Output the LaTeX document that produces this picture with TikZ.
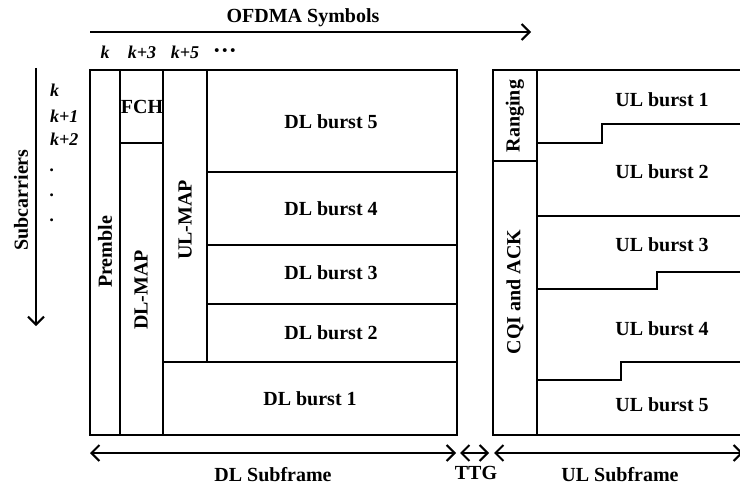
\documentclass[tikz,border=0pt]{standalone}
\usepackage{fontspec}
\setmainfont{Liberation Serif}
\usetikzlibrary{arrows.meta}
\begin{document}
\begin{tikzpicture}[x=1pt,y=-1pt,
  frame/.style={line width=2.2pt},
  stepline/.style={line width=2pt},
  lbl/.style={font=\bfseries\fontsize{20}{22}\selectfont, inner sep=0pt},
  vlbl/.style={lbl, rotate=90},
  idx/.style={font=\bfseries\itshape\fontsize{18}{20}\selectfont, inner sep=0pt},
  arr/.style={line width=1.8pt, -{Straight Barb[length=8pt,width=16pt,line width=2pt]}},
  darr/.style={line width=1.8pt, {Straight Barb[length=8pt,width=16pt,line width=2pt]}-{Straight Barb[length=8pt,width=16pt,line width=2pt]}}
]
\useasboundingbox (0,0) rectangle (740,487);
\clip (0,0) rectangle (740,487);

% top axis
\node[lbl] (ofdma) at (303,18) {OFDMA Symbols};
\coordinate (ta) at (90,32);
\coordinate (tb) at (531,32);
\draw[arr] (ta) -- (tb);
\node[idx] (c1) at (105,52) {k};
\node[idx] (c2) at (142,52) {k+3};
\node[idx] (c3) at (185,52) {k+5};
\node[idx, font=\bfseries\fontsize{24}{26}\selectfont] (c4) at (225,54) {···};

% left axis
\node[vlbl] (sub) at (21,200) {Subcarriers};
\coordinate (la) at (36,68);
\coordinate (lb) at (36,326);
\draw[arr] (la) -- (lb);
\node[idx, anchor=west] (r1) at (50,90) {k};
\node[idx, anchor=west] (r2) at (50,116) {k+1};
\node[idx, anchor=west] (r3) at (50,139) {k+2};
\node[idx, anchor=west] (r4) at (50,170) {.};
\node[idx, anchor=west] (r5) at (50,195) {.};
\node[idx, anchor=west] (r6) at (50,220) {.};

% DL subframe
\draw[frame] (90,70) rectangle (457,435);
\draw[frame] (120,70) -- (120,435);
\draw[frame] (163,70) -- (163,435);
\draw[frame] (120,143) -- (163,143);
\draw[frame] (207,70) -- (207,362);
\draw[frame] (163,362) -- (457,362);
\draw[frame] (207,172) -- (457,172);
\draw[frame] (207,245) -- (457,245);
\draw[frame] (207,304) -- (457,304);

\node[vlbl] (pre) at (105,252) {Premble};
\node[lbl] (fch) at (142,107) {FCH};
\node[vlbl] (dlmap) at (141,290) {DL-MAP};
\node[vlbl] (ulmap) at (185,220) {UL-MAP};
\node[lbl] (dl5) at (331,122) {DL burst 5};
\node[lbl] (dl4) at (331,209) {DL burst 4};
\node[lbl] (dl3) at (331,273) {DL burst 3};
\node[lbl] (dl2) at (331,333) {DL burst 2};
\node[lbl] (dl1) at (310,399) {DL burst 1};

% UL subframe
\draw[frame] (750,70) -- (493,70) -- (493,435) -- (750,435);
\draw[frame] (537,70) -- (537,435);
\draw[frame] (493,161) -- (537,161);
\draw[stepline] (537,143) -- (602,143) -- (602,124) -- (750,124);
\draw[stepline] (537,216) -- (750,216);
\draw[stepline] (537,289) -- (657,289) -- (657,272) -- (750,272);
\draw[stepline] (537,380) -- (621,380) -- (621,362) -- (750,362);

\node[vlbl] (rng) at (515,116) {Ranging};
\node[vlbl] (cqi) at (515,292) {CQI and ACK};
\node[lbl] (ul1) at (662,100) {UL burst 1};
\node[lbl] (ul2) at (662,172) {UL burst 2};
\node[lbl] (ul3) at (662,245) {UL burst 3};
\node[lbl] (ul4) at (662,329) {UL burst 4};
\node[lbl] (ul5) at (662,405) {UL burst 5};

% bottom axis
\coordinate (d1) at (90,453);
\coordinate (d2) at (456,453);
\coordinate (t1) at (460,453);
\coordinate (t2) at (489,453);
\coordinate (u1) at (494,453);
\coordinate (u2) at (743,453);
\draw[darr] (d1) -- (d2);
\draw[darr] (t1) -- (t2);
\draw[darr] (u1) -- (u2);
\node[lbl] (dls) at (273,475) {DL Subframe};
\node[lbl] (ttg) at (476,473) {TTG};
\node[lbl] (uls) at (620,475) {UL Subframe};
\end{tikzpicture}
\end{document}
